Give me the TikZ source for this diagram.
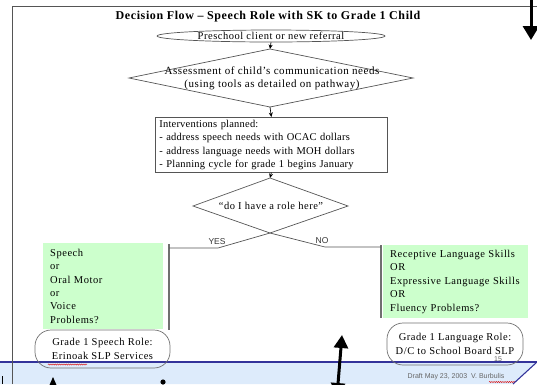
\documentclass[tikz,border=0pt]{standalone}
\usepackage{fontspec}
\setmainfont[LetterSpace=5]{Liberation Serif}
\newfontfamily\planfont[LetterSpace=2]{Liberation Serif}
\newfontfamily\footfont{Liberation Sans}
\usetikzlibrary{arrows.meta,shapes.geometric,decorations.pathmorphing}

\definecolor{boxgreen}{HTML}{CCFFCC}
\definecolor{bandblue}{HTML}{DDEBFB}
\definecolor{bandline}{HTML}{33339A}
\definecolor{edgegray}{HTML}{555555}
\definecolor{bargray}{HTML}{707070}

\begin{document}
\begin{tikzpicture}[x=1pt,y=-1pt,
  font=\fontsize{10.5}{13.4}\selectfont,
  flowline/.style={draw=edgegray, line width=0.7pt},
  link/.style={draw=black, line width=0.7pt, -{Stealth[length=4.5pt,width=4pt]}},
  sidebar/.style={draw=bargray, line width=1.1pt},
  greenbox/.style={fill=boxgreen, draw=none, anchor=north west, align=left,
    inner xsep=7pt, inner ysep=2pt},
  rolebox/.style={draw=bargray, line width=0.7pt, rounded corners=16pt,
    align=center, inner sep=0pt},
  fatarrow/.style={line width=3pt, draw=black},
  squiggle/.style={draw=red!85!black, line width=0.4pt,
    decorate, decoration={snake, amplitude=0.6pt, segment length=2.2pt}},
  branchlabel/.style={font=\footfont\fontsize{8.5}{10}\selectfont, text=black!80},
  footnote/.style={font=\footfont\fontsize{7}{8}\selectfont, text=black!60}]

\clip (0,0) rectangle (537,384);

% footer band with slanted right end
\fill[bandblue] (0,362) -- (537,362) -- (513,384) -- (0,384) -- cycle;
\draw[bandline, line width=1.1pt] (0,362) -- (537,362);
\draw[bandline, line width=1.1pt] (513,384) -- (537,362);

% page frame
\draw[edgegray, line width=0.8pt] (12,384) -- (12,6) -- (537,6);

% title
\node[font=\fontsize{12}{14}\selectfont\bfseries] (title) at (268,17)
  {Decision Flow -- Speech Role with SK to Grade 1 Child};

% start terminal
\node[ellipse, draw=edgegray, line width=0.7pt, minimum width=228pt,
  minimum height=12pt, inner sep=0pt] (start) at (271,36) {};
\node (starttext) at (271,35.5) {Preschool client or new referral};

% assessment decision
\coordinate (a1n) at (270,49);
\coordinate (a1e) at (413,78);
\coordinate (a1s) at (270,107);
\coordinate (a1w) at (129,78);
\draw[flowline] (a1n) -- (a1e) -- (a1s) -- (a1w) -- cycle;
\node[align=center, font=\fontsize{11}{13}\selectfont] (assess) at (272,78)
  {Assessment of child’s communication needs\\(using tools as detailed on pathway)};

% interventions box
\node[draw=edgegray, line width=0.7pt, anchor=north west, align=left,
  font=\planfont\fontsize{10.5}{13.4}\selectfont,
  text width=224pt, inner xsep=4pt, inner ysep=2.5pt, minimum height=55pt] (plan) at (155,117)
  {Interventions planned:\\
   - address speech needs with OCAC dollars\\
   - address language needs with MOH dollars\\
   - Planning cycle for grade 1 begins January};

% role decision
\coordinate (a2n) at (270,178);
\coordinate (a2e) at (348,206);
\coordinate (a2s) at (270,233);
\coordinate (a2w) at (193,206);
\draw[flowline] (a2n) -- (a2e) -- (a2s) -- (a2w) -- cycle;
\node (role) at (271,206) {“do I have a role here”};

% flow arrows
\draw[link] (start.south) -- (a1n);
\draw[link] (a1s) -- (plan.north);
\draw[link] (plan.south) -- (a2n);

% branch bars
\coordinate (yestop) at (169,244);
\coordinate (yesbot) at (169,330);
\coordinate (yesend) at (169,248);
\coordinate (notop) at (381,245);
\coordinate (nobot) at (381,318);
\coordinate (noend) at (381,247);
\draw[sidebar] (yestop) -- (yesbot);
\draw[sidebar] (notop) -- (nobot);

% branches
\draw[flowline] (a2s) -- (218,248) -- (yesend);
\draw[flowline] (a2s) -- (325,247) -- (noend);
\node[branchlabel] (yes) at (217,242) {YES};
\node[branchlabel] (no) at (322,241) {NO};

% condition boxes
\node[greenbox, text width=106pt, minimum height=86pt] (speech) at (43,243)
  {Speech\\or\\Oral Motor\\or\\Voice\\Problems?};
\node[greenbox, text width=131pt, minimum height=73pt] (lang) at (383,245)
  {Receptive Language Skills\\OR\\Expressive Language Skills\\OR\\Fluency Problems?};

% outcome terminals
\node[rolebox, minimum width=135pt, minimum height=38pt] (speechrole) at (102.5,349)
  {Grade 1 Speech Role:\\Erinoak SLP Services};
\node[rolebox, minimum width=136pt, minimum height=42pt] (langrole) at (455,344)
  {Grade 1 Language Role:\\D/C to School Board SLP};
\draw[squiggle] (48,364.5) -- (87,364.5);

% slide number and footer
\node[footnote] (pageno) at (498,359) {15};
\node[footnote] (draft) at (456,377) {Draft May 23, 2003~~V. Burbulis};
\draw[squiggle] (489,382) -- (515,382);

% heavy arrows
\coordinate (dropfrom) at (531,-2);
\coordinate (dropto) at (531,40);
\draw[fatarrow, -{Triangle[length=14pt,width=16pt]}] (dropfrom) -- (dropto);
\coordinate (bothlow) at (337,396);
\coordinate (bothhigh) at (342,335);
\draw[fatarrow, {Triangle[length=13pt,width=14pt]}-{Triangle[length=13pt,width=14pt]}]
  (bothlow) -- (bothhigh);

% cut-off marks along the lower edge
\draw[black, line width=1pt] (2,376) -- (2,384);
\fill[black] (53,377) -- (49.5,385) -- (56.5,385) -- cycle;
\fill[black] (163,382) circle (2.6pt);

\end{tikzpicture}
\end{document}
